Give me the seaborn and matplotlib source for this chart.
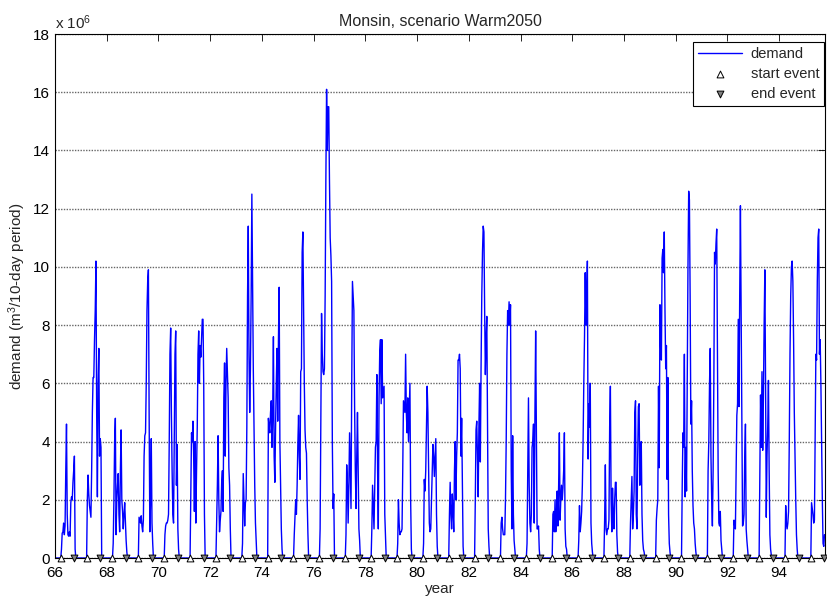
import numpy as np
import pandas as pd
import matplotlib
matplotlib.use('Agg')
import matplotlib.pyplot as plt
import seaborn as sns

# demand in 10^6 m3 per 10-day period, 36 periods per year
# only the summer season (periods 9..28) is listed, the rest of the year is zero
years = list(range(66, 96))
season_first = 9

y66 = [0.3, 0.85, 0.9, 1.2, 0.8, 1.1, 3.0, 4.6, 1.5, 0.8, 0.75, 0.9, 0.75, 1.9, 2.1, 2.0, 2.6, 3.0, 3.5, 0.3]
y67 = [2.0, 2.85, 2.2, 1.8, 1.6, 1.4, 3.0, 5.0, 6.2, 6.2, 7.5, 8.5, 10.2, 5.0, 2.1, 6.0, 7.2, 3.5, 4.1, 3.8]
y68 = [0.5, 2.0, 4.0, 4.8, 0.8, 2.0, 2.5, 2.9, 1.5, 0.9, 3.0, 4.4, 2.0, 1.6, 1.0, 1.5, 1.9, 1.2, 0.6, 0.2]
y69 = [1.4, 1.3, 1.2, 1.45, 1.1, 0.9, 1.3, 3.5, 4.2, 4.3, 6.0, 8.5, 9.5, 9.9, 5.0, 0.9, 2.0, 4.1, 1.2, 0.5]
y70 = [0.8, 1.1, 1.2, 1.2, 1.3, 1.5, 4.0, 7.0, 7.9, 5.0, 3.0, 1.5, 1.2, 4.0, 7.0, 7.8, 2.5, 3.9, 1.0, 0.3]
y71 = [2.0, 4.3, 4.0, 4.7, 3.5, 1.6, 4.0, 1.2, 3.0, 4.5, 7.0, 7.8, 6.0, 7.3, 6.9, 7.6, 8.2, 8.2, 6.0, 1.5]
y72 = [1.2, 2.5, 4.2, 2.0, 0.9, 1.3, 1.6, 2.6, 3.0, 1.6, 5.5, 6.7, 3.5, 6.0, 7.2, 6.4, 5.5, 3.1, 2.5, 1.0]
y73 = [0.5, 2.9, 2.0, 1.1, 1.9, 2.0, 4.5, 9.0, 11.4, 7.0, 5.0, 6.5, 9.0, 12.5, 9.5, 6.5, 4.5, 2.5, 1.2, 0.6]
y74 = [4.8, 4.5, 4.3, 5.0, 5.4, 3.8, 5.0, 7.6, 3.5, 2.6, 4.5, 6.0, 7.2, 4.7, 7.5, 9.3, 4.0, 2.6, 1.0, 0.3]
y75 = [0.8, 1.4, 2.0, 1.5, 2.5, 3.9, 4.9, 3.5, 2.7, 6.4, 6.5, 10.5, 11.2, 8.5, 6.0, 4.4, 3.8, 3.6, 2.0, 0.85]
y76 = [1.0, 5.0, 8.4, 7.0, 6.4, 6.3, 6.5, 9.0, 13.0, 16.1, 14.0, 15.5, 15.5, 13.0, 11.0, 10.4, 9.5, 4.0, 1.7, 2.2]
y77 = [0.8, 3.2, 2.5, 1.2, 2.5, 4.3, 3.0, 1.7, 6.0, 9.5, 9.0, 8.5, 5.2, 3.0, 1.7, 3.5, 5.0, 3.0, 1.0, 0.6]
y78 = [1.0, 2.5, 1.8, 1.0, 2.5, 3.8, 4.0, 6.3, 3.0, 1.0, 5.5, 7.1, 7.5, 5.3, 7.5, 5.5, 5.7, 5.9, 1.5, 0.8]
y79 = [0.5, 2.0, 1.2, 0.8, 0.9, 0.9, 1.0, 3.0, 5.4, 5.2, 5.0, 7.0, 5.0, 4.3, 5.5, 4.0, 5.0, 6.0, 2.0, 0.3]
y80 = [0.5, 2.7, 2.3, 3.0, 4.5, 5.9, 5.0, 3.0, 1.2, 0.9, 1.0, 2.0, 3.0, 3.9, 3.5, 2.8, 3.5, 4.1, 1.5, 0.4]
y81 = [1.5, 2.6, 1.5, 1.0, 2.2, 1.6, 0.9, 3.0, 4.0, 2.0, 3.5, 4.3, 6.8, 6.8, 7.0, 6.5, 3.5, 4.8, 2.5, 0.4]
y82 = [2.0, 4.4, 4.7, 3.5, 2.1, 4.5, 6.0, 3.3, 6.5, 9.0, 10.5, 11.4, 11.2, 8.5, 6.3, 7.5, 8.3, 4.5, 1.0, 0.4]
y83 = [1.2, 1.4, 1.0, 0.8, 0.8, 0.8, 2.0, 4.0, 7.0, 8.5, 8.0, 8.8, 8.0, 8.7, 3.0, 1.0, 4.2, 1.5, 0.6, 0.3]
y84 = [0.5, 3.0, 5.5, 2.5, 1.2, 0.9, 1.5, 3.8, 4.0, 4.6, 1.2, 5.0, 7.8, 4.5, 1.0, 1.0, 1.1, 0.3, 0.0, 0.0]
y85 = [1.5, 1.6, 0.9, 2.0, 0.9, 1.5, 2.3, 1.1, 2.5, 4.3, 1.3, 2.0, 2.5, 2.0, 2.4, 3.0, 4.3, 1.0, 0.4, 0.3]
y86 = [0.6, 1.8, 0.9, 1.2, 1.6, 2.5, 4.0, 6.0, 7.6, 9.8, 8.0, 9.0, 10.2, 3.4, 5.3, 4.5, 6.0, 1.2, 0.5, 0.2]
y87 = [1.3, 3.2, 1.0, 0.8, 1.0, 1.0, 1.3, 4.5, 5.9, 2.0, 0.9, 2.4, 1.5, 1.0, 2.0, 2.6, 2.6, 0.8, 0.2, 0.0]
y88 = [1.2, 2.0, 2.8, 1.0, 1.5, 2.3, 5.0, 5.4, 1.5, 1.0, 3.5, 5.2, 5.3, 2.5, 3.5, 4.0, 1.5, 0.6, 0.3, 0.2]
y89 = [1.3, 1.7, 2.0, 5.9, 3.1, 8.7, 7.2, 6.8, 10.3, 10.6, 9.8, 11.2, 8.5, 6.5, 7.3, 2.7, 6.2, 1.5, 0.5, 0.2]
y90 = [2.5, 4.3, 3.8, 7.0, 2.1, 3.8, 2.3, 6.0, 10.0, 12.6, 12.3, 9.0, 4.6, 5.4, 3.0, 1.8, 1.2, 1.0, 0.5, 0.2]
y91 = [3.0, 4.0, 6.0, 7.2, 3.5, 2.0, 1.1, 3.0, 6.0, 10.5, 10.1, 10.8, 11.3, 7.0, 3.0, 1.2, 1.1, 1.6, 0.6, 0.3]
y92 = [1.3, 1.1, 1.0, 3.0, 4.9, 5.3, 8.2, 5.2, 9.0, 12.1, 8.5, 4.5, 1.1, 1.2, 1.5, 3.5, 4.6, 1.0, 0.6, 0.3]
y93 = [2.8, 5.6, 3.8, 6.4, 3.7, 5.5, 8.0, 9.9, 6.0, 1.4, 3.5, 4.5, 6.1, 3.0, 0.8, 0.3, 0.1, 0.0, 0.0, 0.0]
y94 = [1.8, 1.2, 1.0, 1.2, 1.6, 4.0, 7.0, 9.0, 10.0, 10.2, 9.5, 7.5, 5.0, 3.5, 2.0, 0.8, 0.3, 0.0, 0.0, 0.0]
y95 = [1.9, 1.7, 1.5, 1.2, 1.3, 4.0, 7.0, 6.8, 9.5, 11.0, 11.3, 7.0, 7.5, 6.0, 4.0, 2.0, 0.5, 0.4, 0.8, 0.8]

seasons = [y66, y67, y68, y69, y70, y71, y72, y73, y74, y75, y76, y77, y78, y79, y80,
           y81, y82, y83, y84, y85, y86, y87, y88, y89, y90, y91, y92, y93, y94, y95]

start_event = [66.22, 67.22, 68.22, 69.22, 70.22, 71.22, 72.22, 73.22, 74.22, 75.22,
               76.22, 77.22, 78.22, 79.22, 80.22, 81.22, 82.22, 83.22, 84.22, 85.22,
               86.22, 87.22, 88.22, 89.22, 90.22, 91.22, 92.22, 93.22, 94.22, 95.22]
end_event = [66.75, 67.75, 68.75, 69.75, 70.75, 71.75, 72.75, 73.75, 74.75, 75.75,
             76.75, 77.75, 78.75, 79.75, 80.75, 81.75, 82.75, 83.75, 84.75, 85.75,
             86.75, 87.75, 88.75, 89.75, 90.75, 91.75, 92.75, 93.75, 94.75, 95.75]

# full time series, 36 periods per year
t_all = []
d_all = []
for yr, vals in zip(years, seasons):
    full = np.zeros(36)
    full[season_first:season_first + len(vals)] = vals
    t_all.extend(yr + np.arange(36) / 36.0)
    d_all.extend(full)
df = pd.DataFrame({'year': t_all, 'demand': d_all})

sns.set_style('white')
plt.rcParams['font.family'] = ['Liberation Sans', 'DejaVu Sans']
plt.rcParams['mathtext.default'] = 'regular'

fig = plt.figure(figsize=(8.28, 5.99), dpi=100)
ax = fig.add_axes([55 / 828, 41 / 599, 770 / 828, 524 / 599])

sns.lineplot(data=df, x='year', y='demand', color='blue', linewidth=1.0,
             estimator=None, sort=False, ax=ax, label='demand')
sns.scatterplot(x=start_event, y=[0] * len(start_event), marker='^', s=24,
                color='white', edgecolor='black', linewidth=0.7, ax=ax,
                label='start event', zorder=5, clip_on=False)
sns.scatterplot(x=end_event, y=[0] * len(end_event), marker='v', s=24,
                color='0.5', edgecolor='black', linewidth=0.7, ax=ax,
                label='end event', zorder=5, clip_on=False)

ax.set_xlim(66, 95.77)
ax.set_ylim(0, 18)
ax.set_xticks(range(66, 96, 2))
ax.set_yticks(range(0, 19, 2))
ax.yaxis.grid(True, color='0.4', linestyle=(0, (1, 1)), linewidth=1.0)
ax.xaxis.grid(False)
for s in ax.spines.values():
    s.set_color('black')
    s.set_linewidth(0.8)
ax.tick_params(direction='in', top=True, right=True, length=5, width=0.6,
               labelsize=11, colors='black')
ax.tick_params(axis='x', pad=6)

ax.set_title('Monsin, scenario Warm2050', fontsize=11.5, pad=6)
ax.set_xlabel('year', fontsize=11, labelpad=1)
ax.set_ylabel('demand (m$^3$/10-day period)', fontsize=11, labelpad=4)
ax.text(0.0, 1.004, 'x 10$^{6}$', transform=ax.transAxes, ha='left', va='bottom', fontsize=11)

leg = ax.legend(loc='upper right', bbox_to_anchor=(0.999, 0.985), frameon=True,
                fancybox=False, edgecolor='black', framealpha=1, borderaxespad=0,
                fontsize=10.5, handlelength=3.0, handletextpad=0.6, labelspacing=0.4,
                borderpad=0.35)
leg.get_frame().set_linewidth(0.8)

fig.savefig('out.png', dpi=100)
